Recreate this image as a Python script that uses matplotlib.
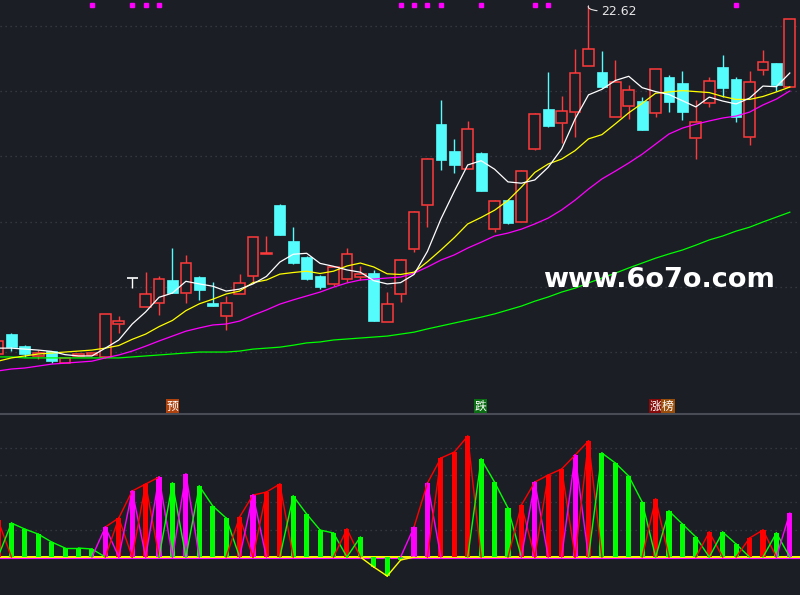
import numpy as np
import matplotlib
matplotlib.use("Agg")
import matplotlib.pyplot as plt
from matplotlib.patches import Rectangle

bg = "#1c1e26"
grid_col = "#3c3f49"

# daily candles (open, high, low, close)
opens = [11.94, 12.55, 12.18, 11.88, 12.03, 11.66, 11.88, 11.91, 11.85, 12.86,
         14.27, 13.38, 13.50, 14.21, 13.81, 14.30, 13.50, 13.10, 13.78, 14.33,
         15.01, 16.51, 15.40, 14.91, 14.33, 14.09, 14.24, 14.30, 14.42, 12.92,
         13.78, 15.16, 16.51, 18.99, 18.17, 17.61, 18.10, 15.77, 16.66, 15.99,
         18.23, 19.45, 19.02, 19.36, 20.77, 20.59, 19.21, 19.55, 19.70, 19.33,
         20.44, 20.25, 18.56, 19.64, 20.74, 20.37, 18.60, 20.65, 20.87, 20.13]
highs = [12.40, 12.58, 12.21, 12.06, 12.03, 11.85, 11.94, 11.97, 13.16, 13.10,
         14.27, 14.45, 14.33, 15.19, 14.98, 14.33, 14.15, 13.72, 14.39, 15.53,
         15.56, 16.55, 15.83, 14.94, 14.36, 14.64, 15.19, 14.64, 14.52, 13.84,
         14.85, 16.32, 17.95, 19.73, 18.53, 19.09, 18.13, 16.66, 16.69, 17.58,
         19.33, 20.59, 19.85, 21.29, 22.62, 21.23, 20.96, 20.19, 19.82, 20.68,
         20.50, 20.62, 19.73, 20.44, 21.11, 20.44, 20.62, 21.26, 20.87, 22.21]
lows = [11.90, 12.03, 11.85, 11.79, 11.66, 11.66, 11.88, 11.91, 11.82, 12.58,
        13.96, 13.38, 13.13, 13.81, 13.50, 13.60, 13.41, 12.67, 13.78, 14.12,
        15.01, 15.59, 14.70, 14.21, 13.93, 14.03, 14.15, 14.21, 12.95, 12.92,
        13.53, 15.07, 15.83, 17.58, 17.49, 17.61, 16.94, 15.68, 15.93, 15.99,
        18.20, 18.90, 18.41, 18.60, 20.77, 20.10, 19.21, 19.15, 18.81, 19.21,
        19.36, 19.12, 17.92, 19.52, 19.82, 19.06, 18.35, 20.50, 20.01, 20.13]
closes = [12.34, 12.15, 11.94, 11.97, 11.72, 11.82, 11.94, 11.97, 13.16, 12.95,
          14.27, 13.78, 14.24, 13.81, 14.73, 13.90, 13.41, 13.50, 14.12, 15.53,
          15.04, 15.59, 14.73, 14.24, 13.99, 14.61, 15.01, 14.39, 12.95, 13.47,
          14.82, 16.29, 17.92, 17.89, 17.74, 18.84, 16.94, 16.63, 15.96, 17.55,
          19.30, 18.93, 19.39, 20.56, 21.29, 20.13, 20.28, 20.04, 18.81, 20.68,
          19.67, 19.36, 19.06, 20.31, 20.10, 19.21, 20.28, 20.90, 20.19, 22.21]

ma5 = [12.12, 12.12, 12.09, 12.06, 12.02, 11.92, 11.88, 11.88, 12.12, 12.37,
       12.86, 13.23, 13.68, 13.81, 14.17, 14.09, 14.02, 13.87, 13.93, 14.09,
       14.32, 14.76, 15.00, 15.03, 14.72, 14.63, 14.52, 14.45, 14.19, 14.09,
       14.13, 14.38, 15.09, 16.08, 16.93, 17.74, 17.87, 17.61, 17.22, 17.18,
       17.28, 17.67, 18.23, 19.15, 19.89, 20.06, 20.33, 20.46, 20.11, 19.99,
       19.90, 19.71, 19.52, 19.82, 19.70, 19.61, 19.79, 20.16, 20.14, 20.56]
ma10 = [11.72, 11.82, 11.88, 11.94, 11.97, 12.00, 12.03, 12.06, 12.12, 12.20,
        12.39, 12.55, 12.78, 12.97, 13.27, 13.48, 13.62, 13.78, 13.87, 14.13,
        14.21, 14.39, 14.44, 14.48, 14.41, 14.48, 14.64, 14.73, 14.61, 14.40,
        14.38, 14.45, 14.77, 15.13, 15.51, 15.93, 16.13, 16.35, 16.65, 17.06,
        17.51, 17.77, 17.92, 18.18, 18.54, 18.67, 19.00, 19.34, 19.63, 19.94,
        19.98, 20.02, 19.99, 19.96, 19.84, 19.75, 19.75, 19.84, 19.98, 20.13]
ma20 = [11.42, 11.48, 11.51, 11.57, 11.63, 11.66, 11.69, 11.72, 11.82, 11.91,
        12.03, 12.18, 12.34, 12.49, 12.64, 12.74, 12.83, 12.86, 12.95, 13.13,
        13.29, 13.47, 13.60, 13.72, 13.84, 13.99, 14.12, 14.21, 14.24, 14.27,
        14.30, 14.42, 14.61, 14.82, 14.98, 15.19, 15.37, 15.56, 15.65, 15.77,
        15.93, 16.11, 16.36, 16.66, 17.00, 17.31, 17.55, 17.80, 18.07, 18.38,
        18.69, 18.87, 18.99, 19.09, 19.18, 19.24, 19.36, 19.58, 19.76, 20.01]
ma60 = [11.85, 11.85, 11.82, 11.82, 11.82, 11.82, 11.82, 11.82, 11.82, 11.82,
        11.85, 11.88, 11.91, 11.94, 11.97, 12.00, 12.00, 12.00, 12.03, 12.09,
        12.12, 12.15, 12.21, 12.28, 12.31, 12.37, 12.40, 12.43, 12.46, 12.49,
        12.55, 12.61, 12.71, 12.80, 12.89, 12.98, 13.07, 13.17, 13.29, 13.41,
        13.56, 13.69, 13.84, 13.96, 14.12, 14.27, 14.42, 14.58, 14.73, 14.88,
        15.01, 15.13, 15.28, 15.44, 15.56, 15.71, 15.83, 15.99, 16.14, 16.29]

signal_days = [7, 10, 11, 12, 30, 31, 32, 33, 36, 40, 41, 55]

# lower indicator
ind_vals = [27.1, 24.9, 20.5, 16.8, 11.0, 6.6, 6.6, 5.9, 22.0, 28.6,
            48.4, 53.5, 58.6, 54.2, 60.8, 52.0, 37.4, 28.6, 29.3, 45.4,
            47.6, 53.5, 44.7, 31.5, 19.8, 17.6, 20.5, 14.7, -7.3, -13.9,
            -2.2, 22.0, 54.2, 72.5, 76.9, 88.6, 71.8, 54.9, 35.9, 38.1,
            54.9, 60.1, 64.5, 74.7, 85.0, 76.2, 68.9, 59.3, 40.3, 42.5,
            33.7, 24.2, 14.7, 18.3, 18.3, 9.5, 13.9, 19.8, 17.6, 32.2]
ind_kind = ["r", "g", "g", "g", "g", "g", "g", "g", "m", "r",
            "m", "r", "m", "g", "m", "g", "g", "g", "r", "m",
            "r", "r", "g", "g", "g", "g", "r", "g", "g", "g",
            "g", "m", "m", "r", "r", "r", "g", "g", "g", "r",
            "m", "r", "r", "m", "r", "g", "g", "g", "g", "r",
            "g", "g", "g", "r", "g", "g", "r", "r", "g", "m"]
kind_col = {"r": "#ff0000", "m": "#ff00ff", "g": "#00ff00"}

n = len(closes)
idx = np.arange(n)
x_lo, x_hi = 0.149, 59.76

fig = plt.figure(figsize=(8, 5.95), dpi=100, facecolor=bg)
ax = fig.add_axes([0, 182 / 595, 1, 413 / 595])
ax2 = fig.add_axes([0, 0, 1, 181 / 595])
for a in (ax, ax2):
    a.set_facecolor(bg)
    a.set_xlim(x_lo, x_hi)
    a.set_axis_off()

ax.set_ylim(10.13, 22.80)
for p in [12, 14, 16, 18, 20, 22]:
    ax.axhline(p, color=grid_col, lw=0.9, ls=(0, (1, 3)), zorder=0)

red = "#ff3a3a"
cyan = "#54fcfc"
w = 0.8
for i in range(n):
    o, h, l, c = opens[i], highs[i], lows[i], closes[i]
    lo_b, hi_b = min(o, c), max(o, c)
    if c > o:
        ax.vlines(i, l, lo_b, color=red, lw=1, zorder=3)
        ax.vlines(i, hi_b, h, color=red, lw=1, zorder=3)
        ax.add_patch(Rectangle((i - w / 2, lo_b), w, hi_b - lo_b,
                               facecolor=bg, edgecolor=red, lw=1.1, zorder=4))
    elif c < o:
        ax.vlines(i, l, h, color=cyan, lw=1, zorder=3)
        ax.add_patch(Rectangle((i - w / 2, lo_b), w, hi_b - lo_b,
                               facecolor=cyan, edgecolor=cyan, lw=0.5, zorder=4))
    else:
        ax.vlines(i, l, h, color="white", lw=1, zorder=3)
        ax.hlines(c, i - w / 2, i + w / 2, color="white", lw=1.2, zorder=4)

ax.plot(idx, ma60, color="#00ff00", lw=0.9, zorder=5)
ax.plot(idx, ma20, color="#ff00ff", lw=0.9, zorder=5)
ax.plot(idx, ma10, color="#ffff00", lw=0.9, zorder=5)
ax.plot(idx, ma5, color="white", lw=0.9, zorder=5)

ax.plot(signal_days, [0.989] * len(signal_days), ls="none", marker="s",
        ms=3, color="#ff00ff", transform=ax.get_xaxis_transform(), clip_on=False)

# highest price marker
top = int(np.argmax(highs))
ax.annotate("22.62", xy=(top, highs[top]), xytext=(top + 0.95, highs[top] - 0.18),
            color="#e6e6e6", fontsize=9, va="center", ha="left",
            arrowprops=dict(arrowstyle="-", color="#e6e6e6", lw=0.8,
                            shrinkA=1, shrinkB=0,
                            connectionstyle="angle3,angleA=0,angleB=60"))

fig.text(543 / 800, 1 - 287 / 595, "www.6o7o.com", color="white",
         fontsize=19.5, fontweight="bold", va="baseline", ha="left")

# separator between panels
fig.add_artist(plt.Line2D([0, 1], [1 - 414 / 595] * 2, color="#4a4c55", lw=1.5))

# lower panel
ax2.set_ylim(-27.8, 104.8)
for v in [20, 40, 60, 80]:
    ax2.axhline(v, color=grid_col, lw=0.9, ls=(0, (1, 3)), zorder=0)
ax2.axhline(0, color="#ffff00", lw=1.4, zorder=2)
ax2.axhline(-0.8, color="#ff00ff", lw=0.8, zorder=2)

ax2.bar(idx, ind_vals, width=0.38, color=[kind_col[k] for k in ind_kind], zorder=3)

def up(k):
    return k in ("r", "m")

for i in range(1, n):
    a, b = ind_vals[i - 1], ind_vals[i]
    if a < 0 or b < 0:
        ax2.plot([i - 1, i], [min(a, 0), min(b, 0)], color="#ffff00", lw=1, zorder=4)
    elif up(ind_kind[i - 1]) == up(ind_kind[i]):
        col = "#ff0000" if up(ind_kind[i]) else "#00ff00"
        ax2.plot([i - 1, i], [a, b], color=col, lw=1, zorder=4)

for i in range(n):
    v = ind_vals[i]
    if v <= 0:
        continue
    col = kind_col[ind_kind[i]]
    if i > 0 and ind_kind[i - 1] != ind_kind[i]:
        ax2.plot([i - 1, i], [0, v], color=col, lw=1, zorder=4)
    if i < n - 1 and ind_kind[i + 1] != ind_kind[i]:
        ax2.plot([i, i + 1], [v, 0], color=col, lw=1, zorder=4)

# signal labels above the separator
cjk = ["Noto Sans CJK SC", "DejaVu Sans"]
labels = [("预", 172.5, "#b0420e"), ("跌", 480.5, "#0b6e12"),
          ("涨", 655.5, "#860a0a"), ("榜", 668.0, "#9a4e0c")]
for txt, xp, col in labels:
    fig.text(xp / 800, 1 - 406 / 595, txt, family=cjk, fontsize=8.5, color="white",
             ha="center", va="center",
             bbox=dict(boxstyle="square,pad=0.08", fc=col, ec="none"))

fig.savefig("out.png", dpi=100, facecolor=bg)
